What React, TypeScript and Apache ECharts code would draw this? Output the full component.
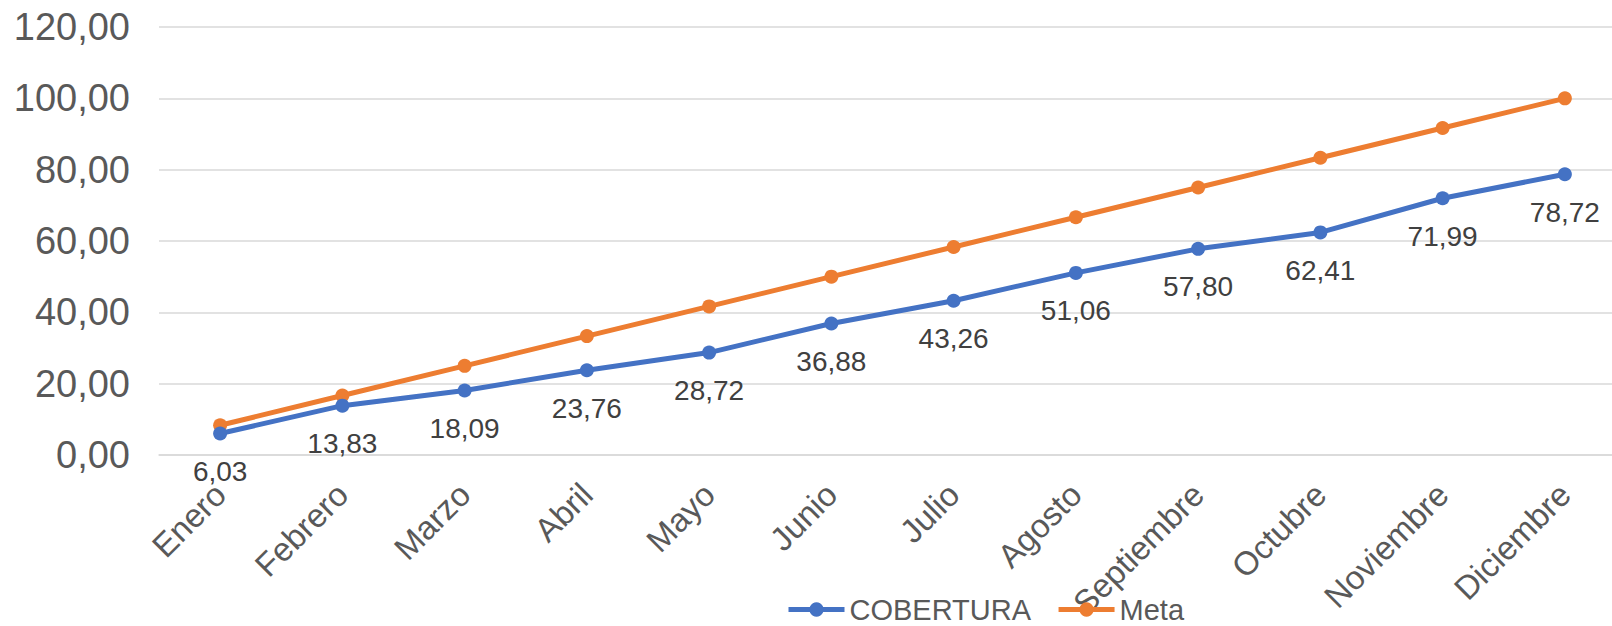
import React, { useEffect, useRef } from "react";
import * as echarts from "echarts";

const months = ["Enero", "Febrero", "Marzo", "Abril", "Mayo", "Junio", "Julio", "Agosto", "Septiembre", "Octubre", "Noviembre", "Diciembre"];
const cobertura = [6.03, 13.83, 18.09, 23.76, 28.72, 36.88, 43.26, 51.06, 57.8, 62.41, 71.99, 78.72];
const meta = [8.33, 16.67, 25.0, 33.33, 41.67, 50.0, 58.33, 66.67, 75.0, 83.33, 91.67, 100.0];
const seriesNames = ["COBERTURA", "Meta"];

const fmt = (v: number) => v.toFixed(2).replace(".", ",");
const FONT = "'Liberation Sans', Arial, sans-serif";

export default function App() {
  const ref = useRef<HTMLDivElement>(null);
  useEffect(() => {
    if (!ref.current) return;
    const chart = echarts.init(ref.current, undefined, { renderer: "svg" });
    chart.setOption({
      animation: false,
      backgroundColor: "#ffffff",
      textStyle: { fontFamily: FONT },
      grid: { left: 159, width: 1467, top: 27, height: 428, containLabel: false },
      legend: {
        left: 786,
        top: 595,
        padding: 0,
        itemWidth: 56,
        itemHeight: 18,
        itemGap: 25,
        lineStyle: { width: 5 },
        textStyle: { fontSize: 29, lineHeight: 26, color: "#595959", fontFamily: FONT },
        data: seriesNames,
      },
      xAxis: {
        type: "category",
        data: months,
        boundaryGap: true,
        axisLine: { show: true, lineStyle: { color: "#D9D9D9", width: 1.5 } },
        axisTick: { show: false },
        axisLabel: { rotate: 45, fontSize: 33, color: "#595959", margin: 34, interval: 0, fontFamily: FONT },
      },
      yAxis: {
        type: "value",
        min: 0,
        max: 120,
        interval: 20,
        axisLine: { show: false },
        axisTick: { show: false },
        splitLine: { lineStyle: { color: "#D9D9D9", width: 1.5 } },
        axisLabel: { fontSize: 38, color: "#595959", margin: 29, formatter: (v: number) => fmt(v), fontFamily: FONT },
      },
      series: [
        {
          name: seriesNames[0],
          type: "line",
          data: cobertura,
          symbol: "circle",
          symbolSize: 14,
          color: "#4472C4",
          lineStyle: { width: 5, color: "#4472C4" },
          itemStyle: { color: "#4472C4" },
          z: 3,
          label: {
            show: true,
            position: "inside",
            offset: [0, 38],
            fontSize: 28,
            color: "#404040",
            fontFamily: FONT,
            formatter: (p: any) => fmt(p.value),
          },
        },
        {
          name: seriesNames[1],
          type: "line",
          data: meta,
          symbol: "circle",
          symbolSize: 14,
          color: "#ED7D31",
          lineStyle: { width: 5, color: "#ED7D31" },
          itemStyle: { color: "#ED7D31" },
          z: 2,
        },
      ],
    });
    return () => chart.dispose();
  }, []);
  return <div ref={ref} style={{ position: "fixed", left: 0, top: 0, width: 1640, height: 626 }} />;
}
